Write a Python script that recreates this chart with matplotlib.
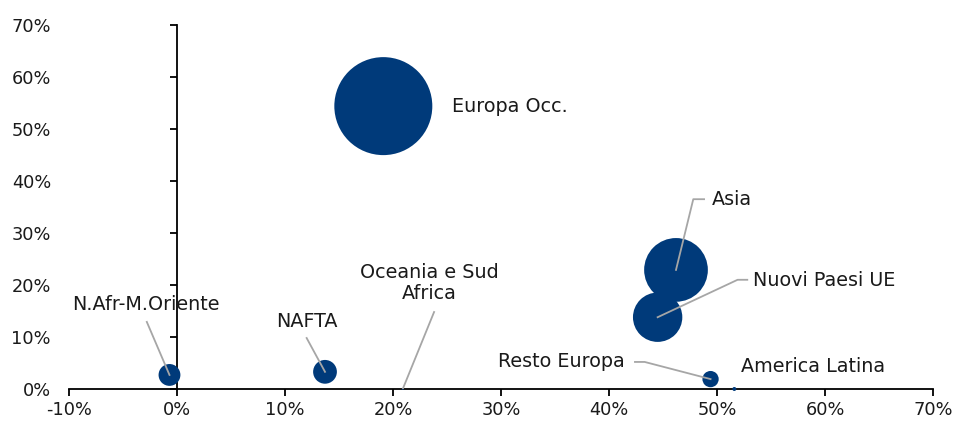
import matplotlib
matplotlib.use("Agg")
import matplotlib.pyplot as plt
from matplotlib.ticker import FuncFormatter

# ---- data ----
regions = ["Europa Occ.", "Asia", "Nuovi Paesi UE", "NAFTA", "N.Afr-M.Oriente",
           "Resto Europa", "America Latina", "Oceania e Sud\nAfrica"]
x_vals = [19.1, 46.2, 44.5, 13.7, -0.7, 49.4, 51.6, 20.9]
y_vals = [54.4, 22.9, 13.8, 3.3, 2.7, 1.9, 0.0, 0.0]
bubble_sizes = [54.4, 23.0, 13.8, 3.2, 2.7, 1.5, 0.09, 0.02]
x_ticks = [-10, 0, 10, 20, 30, 40, 50, 60, 70]
y_ticks = [0, 10, 20, 30, 40, 50, 60, 70]

plt.rcParams['font.family'] = ['DejaVu Sans']
NAVY = "#003A7A"
GREY = "#A6A6A6"
FS = 12.8
LFS = 13.8

fig = plt.figure(figsize=(9.55, 4.26), dpi=100)
ax = fig.add_axes([0.0723, 0.0869, 0.9047, 0.8544])

ax.scatter(x_vals, y_vals, s=[b * 91.5 for b in bubble_sizes], color=NAVY,
           edgecolors="none", clip_on=False, zorder=3)

ax.set_xlim(-10, 70)
ax.set_ylim(0, 70)
ax.set_xticks(x_ticks)
ax.set_yticks(y_ticks)
pct = FuncFormatter(lambda v, p: f"{v:.0f}%")
ax.xaxis.set_major_formatter(pct)

for s in ["top", "right"]:
    ax.spines[s].set_visible(False)
ax.spines["left"].set_position(("data", 0))
ax.spines["left"].set_linewidth(1.3)
ax.spines["bottom"].set_linewidth(1.3)
ax.tick_params(axis="x", direction="out", length=5, width=1.3, labelsize=FS, pad=4,
               labelcolor="#1a1a1a")
ax.tick_params(axis="y", direction="out", length=5, width=1.3, labelleft=False)

sec = ax.secondary_yaxis(0)
sec.set_yticks(y_ticks)
sec.yaxis.set_major_formatter(pct)
sec.spines["left"].set_visible(False)
sec.tick_params(axis="y", length=0, labelsize=FS, pad=13, labelcolor="#1a1a1a")

# ---- labels and leader lines ----
txt = dict(fontsize=LFS, color="#1a1a1a", zorder=5)
ax.text(25.5, 54.4, regions[0], ha="left", va="center", **txt)

ax.plot([46.2, 47.8, 48.8], [22.9, 36.5, 36.5], color=GREY, lw=1.3, zorder=4)
ax.text(49.5, 36.4, regions[1], ha="left", va="center", **txt)

ax.plot([44.5, 51.9, 52.8], [13.8, 21.0, 21.0], color=GREY, lw=1.3, zorder=4)
ax.text(53.3, 20.8, regions[2], ha="left", va="center", **txt)

ax.plot([12.0, 13.7], [9.8, 3.3], color=GREY, lw=1.3, zorder=4)
ax.text(12.0, 12.9, regions[3], ha="center", va="center", **txt)

ax.plot([-2.8, -0.7], [12.9, 2.7], color=GREY, lw=1.3, zorder=4)
ax.text(-2.9, 16.3, regions[4], ha="center", va="center", **txt)

ax.plot([42.4, 43.3, 49.4], [5.2, 5.2, 1.9], color=GREY, lw=1.3, zorder=4)
ax.text(41.5, 5.3, regions[5], ha="right", va="center", **txt)

ax.text(52.2, 4.4, regions[6], ha="left", va="center", **txt)

ax.plot([23.8, 20.9], [14.8, 0.0], color=GREY, lw=1.3, zorder=4)
ax.text(23.4, 20.4, regions[7], ha="center", va="center", linespacing=1.1, **txt)

fig.savefig("out.png", dpi=100)
